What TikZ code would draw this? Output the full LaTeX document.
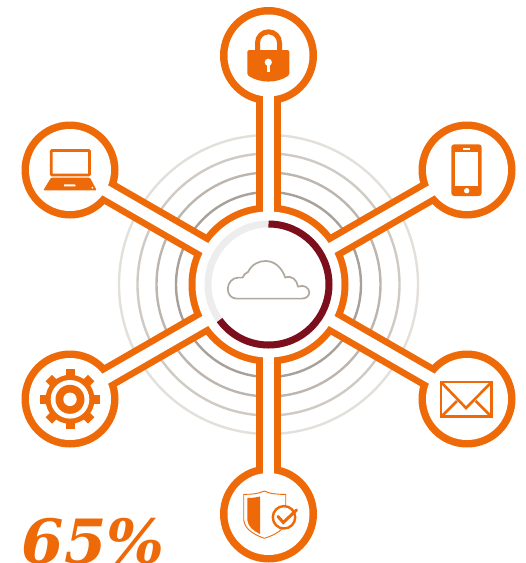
\documentclass[tikz,border=0pt]{standalone}
\usepackage{fontspec}
\usepackage{tikz}
\newfontfamily\numfont{DejaVu Serif}
\definecolor{hubor}{HTML}{EE6A08}
\definecolor{hubred}{HTML}{7D0F1C}
\definecolor{hubgray}{HTML}{EDEDED}
\definecolor{cloudgr}{HTML}{B0A79E}

\begin{document}
\begin{tikzpicture} [x=1pt,y=-1pt,
  wave/.style= {line width=2.4pt,fill=none},
  satdisc/.style= {shape=circle,minimum size=97pt,inner sep=0,outer sep=0,fill=hubor},
  sathole/.style= {shape=circle,minimum size=82pt,inner sep=0,outer sep=0,fill=white},
  hubdisc/.style= {shape=circle,minimum size=160pt,inner sep=0,outer sep=0,fill=hubor},
  hubhole/.style= {shape=circle,minimum size=146pt,inner sep=0,outer sep=0,fill=white},
  link/.style= {draw=hubor,line width=6.6pt,double=white,double distance=11.4pt},
  iconline/.style= {draw=hubor,line width=2.6pt,fill=none},
  iconfill/.style= {fill=hubor,draw=none},
  iconhole/.style= {fill=white,draw=none}]

\useasboundingbox (0,0) rectangle (526,563);

% rings behind the hub
\foreach \r/\c in {149.5/E3DFDA,131/CFCAC3,112/BDB6AE,92.5/A8A19A}{%
  \definecolor{wavec}{HTML}{\c}
  \draw[wave,wavec] (268.5,284.5) circle (\r);}

\node[hubdisc] (hub) at (268.5,284.5) {};
\foreach \name/\x/\y in {lock/268.5/55.5,laptop/70/170,phone/467/170,gear/70/399,mail/467/399,shield/268.5/514}{%
  \node[satdisc] (\name) at (\x,\y) {};}

\foreach \name in {lock,laptop,phone,gear,mail,shield}{%
  \draw[link] (hub.center) -- (\name.center);}

\foreach \name in {lock,laptop,phone,gear,mail,shield}{%
  \node[sathole] (\name-in) at (\name.center) {};}
\node[hubhole] (hub-in) at (hub.center) {};

% progress ring
\draw[hubgray,line width=7pt] (hub.center) circle (60.5);
\draw[hubred,line width=7pt] (268.5,224) arc[start angle=-90,delta angle=234,radius=60.5];

% cloud
\draw[cloudgr,line width=1.7pt,line join=round] (236.5,298.6) .. controls (231,298.6) and (227.8,294) .. (227.8,289)
  .. controls (227.8,283) and (232,278) .. (238,277.6) -- (242.7,277.6)
  .. controls (243.5,275) and (245,273) .. (248,272) .. controls (252,264) and (259,261) .. (265.5,261)
  .. controls (275,261) and (282,268) .. (285.3,277.6)
  .. controls (292,275) and (297,280) .. (298,286.7) .. controls (304,284) and (309.3,288) .. (309.3,292.5)
  .. controls (309.3,296) and (306,298.6) .. (302,298.6) -- cycle;

% lock
\draw[hubor,line width=5pt] (257.5,51) -- (257.5,42.8) arc[start angle=180,end angle=360,radius=11] -- (279.5,51);
\fill[iconfill,rounded corners=1.5pt] (247.3,50) -- (289.3,50) -- (289.3,75) -- (289.3,75) .. controls (277,83.5) and (260,83.5) .. (247.3,75) -- cycle;
\fill[iconhole] (268.3,62.3) circle (3.6);
\fill[iconhole] (266.8,63) rectangle (269.8,72);

% laptop
\draw[iconline,rounded corners=0.8pt] (51.2,150.5) rectangle (89.5,175);
\fill[iconfill,rounded corners=1pt] (51,177.7) -- (90,177.7) -- (96.7,190.3) -- (43.3,190.3) -- cycle;
\fill[iconhole] (64.3,184.3) -- (75,184.3) -- (75.7,186.3) -- (63.8,186.3) -- cycle;
\fill[iconhole] (92.3,187.7) circle (1);

% phone
\fill[iconfill,rounded corners=3pt] (451.3,144.3) rectangle (481.7,196);
\fill[iconhole] (455.3,152.3) rectangle (478,185.7);
\fill[iconhole] (463.3,148.3) rectangle (470,150);
\fill[iconhole] (466.7,190.7) circle (2.7);

% gear
\foreach \a in {0,45,...,315}{%
  \fill[iconfill,rotate around={\a:(70,399.3)}] (65.5,369.3) rectangle (74.5,379);}
\fill[iconfill] (70,399.3) circle (24.5);
\fill[iconhole] (70,399.3) circle (19.3);
\fill[iconfill] (70,399.3) circle (14.5);
\fill[iconhole] (70,399.3) circle (6.7);

% mail
\draw[iconline,line join=miter] (441,382) rectangle (491.7,416.7);
\draw[iconline] (441,382) -- (466,408) -- (491.7,382);
\draw[iconline] (441.5,416.5) -- (457,401);
\draw[iconline] (491.2,416.5) -- (475.7,401);

% shield
\draw[hubor,line width=0.9pt,line join=round] (264.3,491) .. controls (258,494) and (250,494.5) .. (243.7,494.3) -- (243.7,520)
  .. controls (245,530) and (255,535) .. (264.3,538.3) .. controls (272,536) and (278,533) .. (283,528);
\draw[hubor,line width=0.9pt] (264.3,491) .. controls (270,494) and (279,494.5) .. (285.7,494.3) -- (285.7,505);
\fill[iconfill] (247.3,498) .. controls (252,498) and (256,497.5) .. (260,496.5) -- (260,534) .. controls (254,531) and (248,527) .. (247.3,520) -- cycle;
\draw[iconline,line width=2.4pt] (284,517.3) circle (11.2);
\draw[hubor,line width=3pt,line cap=round,line join=miter] (278,516.5) -- (283.3,522.5) -- (296.5,510);

\node[text=hubor,anchor=base west,inner sep=0,font={\numfont\bfseries\itshape\fontsize{61pt}{61pt}\selectfont}] (pct) at (21.5,563.5) {65\%};
\end{tikzpicture}
\end{document}
